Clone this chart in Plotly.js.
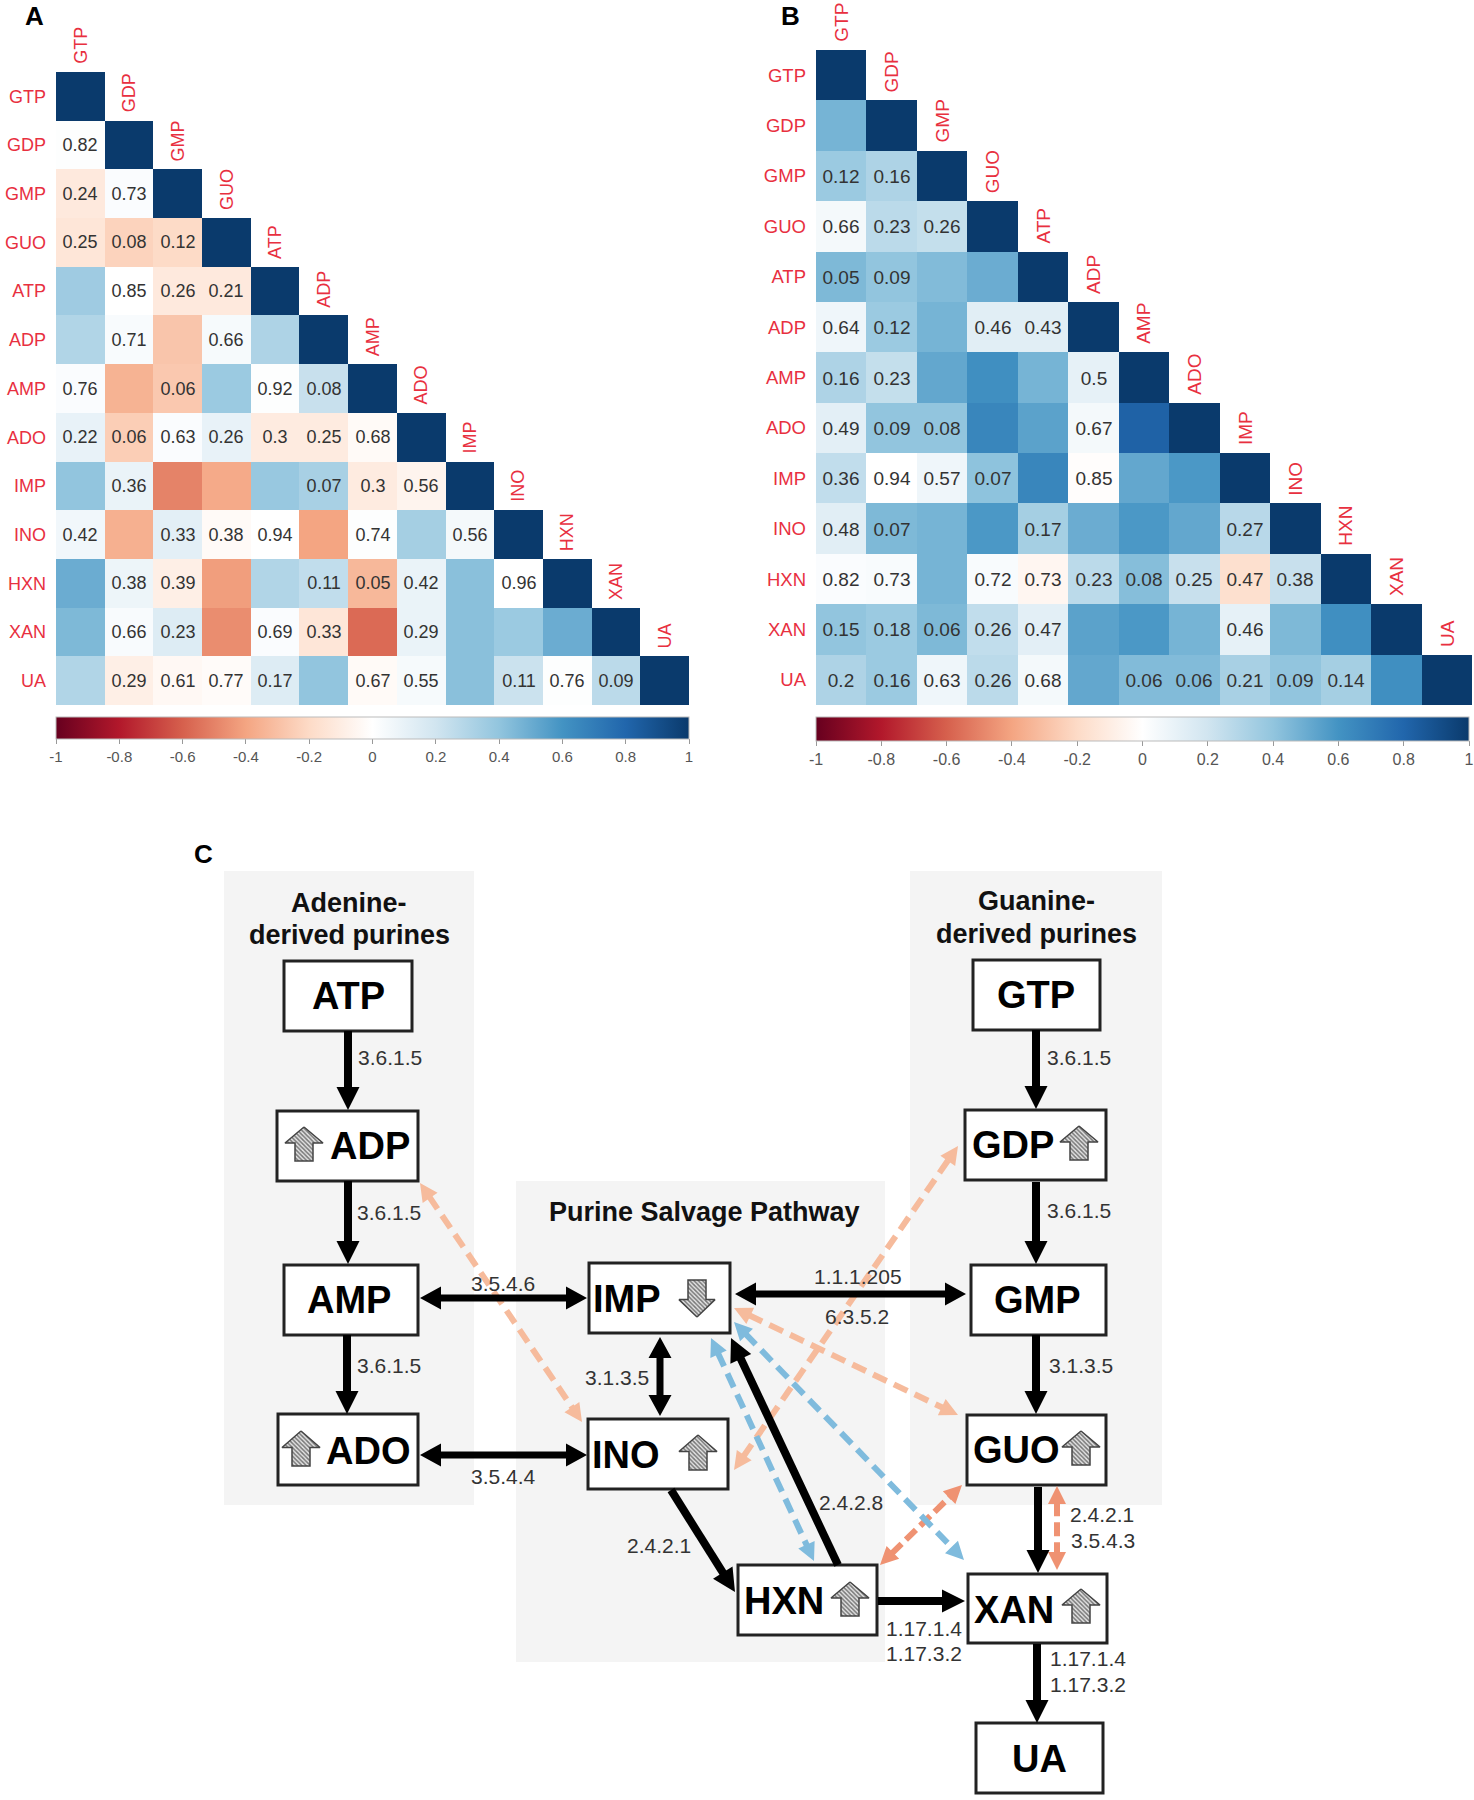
<!DOCTYPE html>
<html>
<head>
<meta charset="utf-8">
<script src="https://cdn.plot.ly/plotly-3.0.1.min.js"></script>
<style>html,body{margin:0;padding:0;background:#fff}</style>
</head>
<body>
<div id="chart" style="width:1474px;height:1800px"></div>
<script>
// ---------- heatmap data ----------
const metabolites = ['GTP','GDP','GMP','GUO','ATP','ADP','AMP','ADO','IMP','INO','HXN','XAN','UA'];

const corrA = [
 [1],
 [0.01,1],
 [-0.12,0.02,1],
 [-0.14,-0.23,-0.2,1],
 [0.36,0.0,-0.12,-0.12,1],
 [0.3,0.03,-0.28,0.04,0.31,1],
 [0.02,-0.35,-0.27,0.37,0.01,0.23,1],
 [0.1,-0.25,0.02,0.1,-0.11,-0.11,-0.03,1],
 [0.4,0.09,-0.5,-0.38,0.38,0.33,-0.11,-0.06,1],
 [0.06,-0.36,0.12,-0.03,0.0,-0.4,0.01,0.34,0.05,1],
 [0.5,0.08,-0.09,-0.42,0.3,0.25,-0.33,0.09,0.42,0.0,1],
 [0.45,0.03,0.15,-0.47,0.02,-0.14,-0.57,0.09,0.42,0.37,0.5,1],
 [0.3,-0.09,-0.04,-0.02,0.15,0.4,-0.03,0.04,0.42,0.22,0.01,0.27,1]
];
const labelsA = [
 [''],
 ['0.82',''],
 ['0.24','0.73',''],
 ['0.25','0.08','0.12',''],
 ['','0.85','0.26','0.21',''],
 ['','0.71','','0.66','',''],
 ['0.76','','0.06','','0.92','0.08',''],
 ['0.22','0.06','0.63','0.26','0.3','0.25','0.68',''],
 ['','0.36','','','','0.07','0.3','0.56',''],
 ['0.42','','0.33','0.38','0.94','','0.74','','0.56',''],
 ['','0.38','0.39','','','0.11','0.05','0.42','','0.96',''],
 ['','0.66','0.23','','0.69','0.33','','0.29','','','',''],
 ['','0.29','0.61','0.77','0.17','','0.67','0.55','','0.11','0.76','0.09','']
];
const corrB = [
 [1],
 [0.47,1],
 [0.37,0.31,1],
 [0.05,0.27,0.24,1],
 [0.45,0.4,0.44,0.5,1],
 [0.07,0.37,0.47,0.13,0.13,1],
 [0.31,0.24,0.52,0.62,0.47,0.11,1],
 [0.12,0.4,0.4,0.66,0.54,0.05,0.82,1],
 [0.25,0.0,0.07,0.41,0.66,-0.01,0.52,0.58,1],
 [0.13,0.45,0.47,0.58,0.34,0.5,0.58,0.52,0.28,1],
 [0.02,0.03,0.47,0.03,-0.05,0.27,0.43,0.23,-0.17,0.23,1],
 [0.4,0.37,0.45,0.25,0.12,0.54,0.58,0.47,0.11,0.45,0.62,1],
 [0.31,0.37,0.07,0.27,0.05,0.52,0.44,0.44,0.33,0.4,0.34,0.62,1]
];
const labelsB = [
 [''],
 ['',''],
 ['0.12','0.16',''],
 ['0.66','0.23','0.26',''],
 ['0.05','0.09','','',''],
 ['0.64','0.12','','0.46','0.43',''],
 ['0.16','0.23','','','','0.5',''],
 ['0.49','0.09','0.08','','','0.67','',''],
 ['0.36','0.94','0.57','0.07','','0.85','','',''],
 ['0.48','0.07','','','0.17','','','','0.27',''],
 ['0.82','0.73','','0.72','0.73','0.23','0.08','0.25','0.47','0.38',''],
 ['0.15','0.18','0.06','0.26','0.47','','','','0.46','','',''],
 ['0.2','0.16','0.63','0.26','0.68','','0.06','0.06','0.21','0.09','0.14','','']
];
const colorbarTicks = [-1,-0.8,-0.6,-0.4,-0.2,0,0.2,0.4,0.6,0.8,1];
const colorbarTickText = ['-1','-0.8','-0.6','-0.4','-0.2','0','0.2','0.4','0.6','0.8','1'];

// ---------- pathway diagram data ----------
const regionBoxes = [[224,474,871,1505],[910,1162,871,1505],[516,885,1181,1662]];
const nodeNames = ['ATP','ADP','AMP','ADO','IMP','INO','HXN','GTP','GDP','GMP','GUO','XAN','UA'];
const nodeBoxes = [
 [284,412,961,1031],[277,418,1111,1181],[284,418,1265,1335],[278,418,1414,1485],
 [589,730,1263,1333],[588,728,1419,1489],[738,877,1565,1635],
 [973,1100,960,1030],[965,1106,1110,1180],[971,1106,1265,1335],
 [967,1106,1415,1485],[968,1107,1574,1643],[976,1103,1723,1793]
];
const nodeTextX = [348,370,349,368,627,626,784,1036,1013,1037,1016,1014,1039];
const nodeTextY = [996,1146,1300,1451,1299,1455,1601,995,1145,1300,1450,1610,1759];
const changeArrows = [ // centre x, top y, bottom y, direction
 [304,1127,1161,1],[301,1431,1466,1],[697,1280,1317,-1],[698,1435,1470,1],
 [850,1582,1616,1],[1079,1126,1160,1],[1081,1431,1465,1],[1081,1589,1623,1]
];
const solidOneWay = [
 [348,1031,348,1110],[348,1181,348,1264],[347,1335,347,1414],
 [1036,1030,1036,1109],[1036,1182,1036,1264],[1036,1335,1036,1414],
 [671,1490,735,1592],[838,1565,731,1338],[878,1601,965,1601],
 [1038,1487,1038,1573],[1037,1644,1037,1723]
];
const solidTwoWay = [
 [420,1298,587,1298],[420,1455,587,1455],[735,1294,966,1294],[660,1337,660,1416]
];
const lightOrangeDashed = [
 [420,1183,582,1422],[734,1470,958,1146],[734,1308,958,1415]
];
const darkOrangeDashed = [
 [880,1565,962,1485],[1057,1486,1057,1570]
];
const blueDashed = [
 [711,1338,814,1561],[734,1322,964,1560]
];
const enzymeTexts = ['3.6.1.5','3.6.1.5','3.6.1.5','3.5.4.6','3.5.4.4','3.1.3.5','2.4.2.1','2.4.2.8',
 '1.1.1.205','6.3.5.2','3.6.1.5','3.6.1.5','3.1.3.5','2.4.2.1','3.5.4.3','1.17.1.4','1.17.3.2','1.17.1.4','1.17.3.2'];
const enzymeX = [390,389,389,503,503,617,659,851,858,857,1079,1079,1081,1102,1103,924,924,1088,1088];
const enzymeY = [1057,1212,1365,1283,1476,1377,1545,1502,1276,1316,1057,1210,1365,1514,1540,1628,1653,1658,1684];
const groupTitles = ['Adenine-','derived purines','Guanine-','derived purines','Purine Salvage Pathway'];
const groupTitleX = [349,349,1036,1036,704];
const groupTitleY = [903,935,901,934,1212];

// ---------- page geometry ----------
const W = 1474, H = 1800;
const FONT = '"Liberation Sans", Arial, sans-serif';
const RDBU = ['#67001F','#B2182B','#D6604D','#F4A582','#FDDBC7','#FFFFFF','#D1E5F0','#92C5DE','#4393C3','#2166AC','#0A3A6C'];
const colorscale = RDBU.map((c,i)=>[i/10,c]);
const RED = '#E8303F';

function pad(rows, fill){
  return rows.map(r => r.concat(new Array(13 - r.length).fill(fill)));
}
function heat(z, text, xa, ya, px, cb, fontSize, cbFont){
  return {
    type:'heatmap', x:metabolites, y:metabolites, z:pad(z,null), text:pad(text,''),
    texttemplate:'%{text}', textfont:{family:FONT,size:fontSize,color:'#333'},
    xaxis:xa, yaxis:ya, colorscale, zmin:-1, zmax:1, hoverinfo:'skip', showscale:true, xgap:0, ygap:0,
    colorbar:{
      orientation:'h', x:(px[0]+px[1])/2/W, xanchor:'center', y:1-cb[0]/H, yanchor:'top',
      len:(px[1]-px[0])/W, lenmode:'fraction', thickness:cb[1]-cb[0], thicknessmode:'pixels',
      xpad:0, ypad:0, outlinewidth:1, outlinecolor:'#bbb', borderwidth:0,
      tickmode:'array', tickvals:colorbarTicks, ticktext:colorbarTickText,
      ticks:'outside', ticklen:5, tickwidth:1, tickcolor:'#999', ticklabeloverflow:'allow',
      tickfont:{family:FONT,size:cbFont,color:'#555'}
    }
  };
}
const boxA = {x:[56,689], y:[72,705]};
const boxB = {x:[816,1472], y:[50,705]};

const traces = [
  heat(corrA, labelsA, 'x','y', boxA.x, [717,739], 18, 15),
  heat(corrB, labelsB, 'x2','y2', [816,1469], [717,741], 19, 16)
];

// ---------- arrows as scatter traces on the diagram axes ----------
function arrowTraces(list, both, width, headW, headL, color, dash){
  const sx=[], sy=[], hx=[], hy=[];
  list.forEach(([x0,y0,x1,y1])=>{
    const d=Math.hypot(x1-x0,y1-y0), ux=(x1-x0)/d, uy=(y1-y0)/d;
    const nx=-uy, ny=ux;
    const trim=headL*0.9;
    sx.push(both?x0+ux*trim:x0, x1-ux*trim, null);
    sy.push(both?y0+uy*trim:y0, y1-uy*trim, null);
    const head=(tx,ty,dx,dy)=>{
      hx.push(tx, tx-dx*headL+nx*headW/2, tx-dx*headL-nx*headW/2, tx, null);
      hy.push(ty, ty-dy*headL+ny*headW/2, ty-dy*headL-ny*headW/2, ty, null);
    };
    head(x1,y1,ux,uy);
    if(both) head(x0,y0,-ux,-uy);
  });
  return [
    {type:'scatter',mode:'lines',x:sx,y:sy,xaxis:'x3',yaxis:'y3',hoverinfo:'skip',showlegend:false,
     line:{color,width,dash:dash||'solid'}},
    {type:'scatter',mode:'lines',x:hx,y:hy,xaxis:'x3',yaxis:'y3',hoverinfo:'skip',showlegend:false,
     fill:'toself',fillcolor:color,line:{color,width:0}}
  ];
}
traces.push(...arrowTraces(lightOrangeDashed,true,6,18,18,'#F6BB9C','15px,8px'));
traces.push(...arrowTraces(darkOrangeDashed,true,6,18,18,'#EF9272','14px,6px'));
traces.push(...arrowTraces(blueDashed,true,6,18,18,'#7FBBDD','15px,8px'));
traces.push(...arrowTraces(solidOneWay,false,8,23,23,'#000'));
traces.push(...arrowTraces(solidTwoWay,true,7,23,21,'#000'));

// up / down hatched markers
const ax=[], ay=[];
changeArrows.forEach(([cx,t,b,dir])=>{
  const hw=19, sw=9, h=b-t, neck=h*0.47;
  if(dir>0){
    ax.push(cx,cx+hw,cx+sw,cx+sw,cx-sw,cx-sw,cx-hw,cx,null);
    ay.push(t,t+neck,t+neck,b,b,t+neck,t+neck,t,null);
  }else{
    ax.push(cx,cx+hw-1,cx+sw,cx+sw,cx-sw,cx-sw,cx-hw+1,cx,null);
    ay.push(b,b-neck,b-neck,t,t,b-neck,b-neck,b,null);
  }
});
traces.push({type:'scatter',mode:'lines',x:ax,y:ay,xaxis:'x3',yaxis:'y3',hoverinfo:'skip',showlegend:false,
  fill:'toself',fillcolor:'#bbb',
  fillpattern:{shape:'\\',size:3,solidity:0.5,fgcolor:'#777',bgcolor:'#e4e4e4',fillmode:'replace'},
  line:{color:'#444',width:1.5}});

// ---------- annotations ----------
const annotations = [];
metabolites.forEach((m,i)=>{
  annotations.push({xref:'x',yref:'y',x:i,y:i-0.5,text:m,textangle:-90,showarrow:false,xanchor:'center',yanchor:'bottom',
    yshift:6,font:{family:FONT,size:18,color:RED}});
  annotations.push({xref:'x2',yref:'y2',x:i,y:i-0.5,text:m,textangle:-90,showarrow:false,xanchor:'center',yanchor:'bottom',
    yshift:6,font:{family:FONT,size:19,color:RED}});
});
function panel(t,x,y){
  annotations.push({xref:'paper',yref:'paper',x:x/W,y:1-y/H,text:'<b>'+t+'</b>',showarrow:false,xanchor:'center',yanchor:'middle',
    font:{family:FONT,size:26,color:'#000'}});
}
panel('A',34,15.5); panel('B',790,15.5); panel('C',203,854);
nodeNames.forEach((n,i)=>annotations.push({xref:'x3',yref:'y3',x:nodeTextX[i],y:nodeTextY[i],text:'<b>'+n+'</b>',showarrow:false,
  xanchor:'center',yanchor:'middle',font:{family:FONT,size:38,color:'#000'}}));
enzymeTexts.forEach((t,i)=>annotations.push({xref:'x3',yref:'y3',x:enzymeX[i],y:enzymeY[i],text:t,showarrow:false,
  xanchor:'center',yanchor:'middle',font:{family:FONT,size:21,color:'#333'}}));
groupTitles.forEach((t,i)=>annotations.push({xref:'x3',yref:'y3',x:groupTitleX[i],y:groupTitleY[i],text:'<b>'+t+'</b>',showarrow:false,
  xanchor:'center',yanchor:'middle',font:{family:FONT,size:27,color:'#111'}}));

// ---------- shapes ----------
const shapes = [];
regionBoxes.forEach(([x0,x1,y0,y1])=>shapes.push({type:'rect',xref:'x3',yref:'y3',x0,x1,y0,y1,layer:'below',
  fillcolor:'#F4F4F4',line:{width:0}}));
nodeBoxes.forEach(([x0,x1,y0,y1])=>shapes.push({type:'rect',xref:'x3',yref:'y3',x0,x1,y0,y1,layer:'below',
  fillcolor:'#FFFFFF',line:{color:'#222',width:3}}));

// ---------- layout ----------
function catAxis(range,dom,extra){
  return Object.assign({domain:dom,range,type:'category',categoryorder:'array',categoryarray:metabolites,
    showgrid:false,zeroline:false,showline:false,ticks:'',fixedrange:true},extra);
}
const topDiagram = 820;
const layout = {
  width:W,height:H,margin:{l:0,r:0,t:0,b:0,pad:0,autoexpand:false},
  paper_bgcolor:'#fff',plot_bgcolor:'rgba(0,0,0,0)',showlegend:false,hovermode:false,
  xaxis:catAxis([-0.5,12.5],[boxA.x[0]/W,boxA.x[1]/W],{anchor:'y',showticklabels:false}),
  yaxis:catAxis([12.5,-0.5],[1-boxA.y[1]/H,1-boxA.y[0]/H],{anchor:'x',ticklabelstandoff:9,tickfont:{family:FONT,size:18,color:RED}}),
  xaxis2:catAxis([-0.5,12.5],[boxB.x[0]/W,boxB.x[1]/W],{anchor:'y2',showticklabels:false}),
  yaxis2:catAxis([12.5,-0.5],[1-boxB.y[1]/H,1-boxB.y[0]/H],{anchor:'x2',ticklabelstandoff:9,tickfont:{family:FONT,size:18.5,color:RED}}),
  xaxis3:{domain:[0,1],range:[0,W],visible:false,anchor:'y3',fixedrange:true},
  yaxis3:{domain:[0,1-topDiagram/H],range:[H,topDiagram],visible:false,anchor:'x3',fixedrange:true},
  annotations,shapes
};
Plotly.newPlot('chart',traces,layout,{displayModeBar:false,staticPlot:true});
</script>
</body>
</html>
